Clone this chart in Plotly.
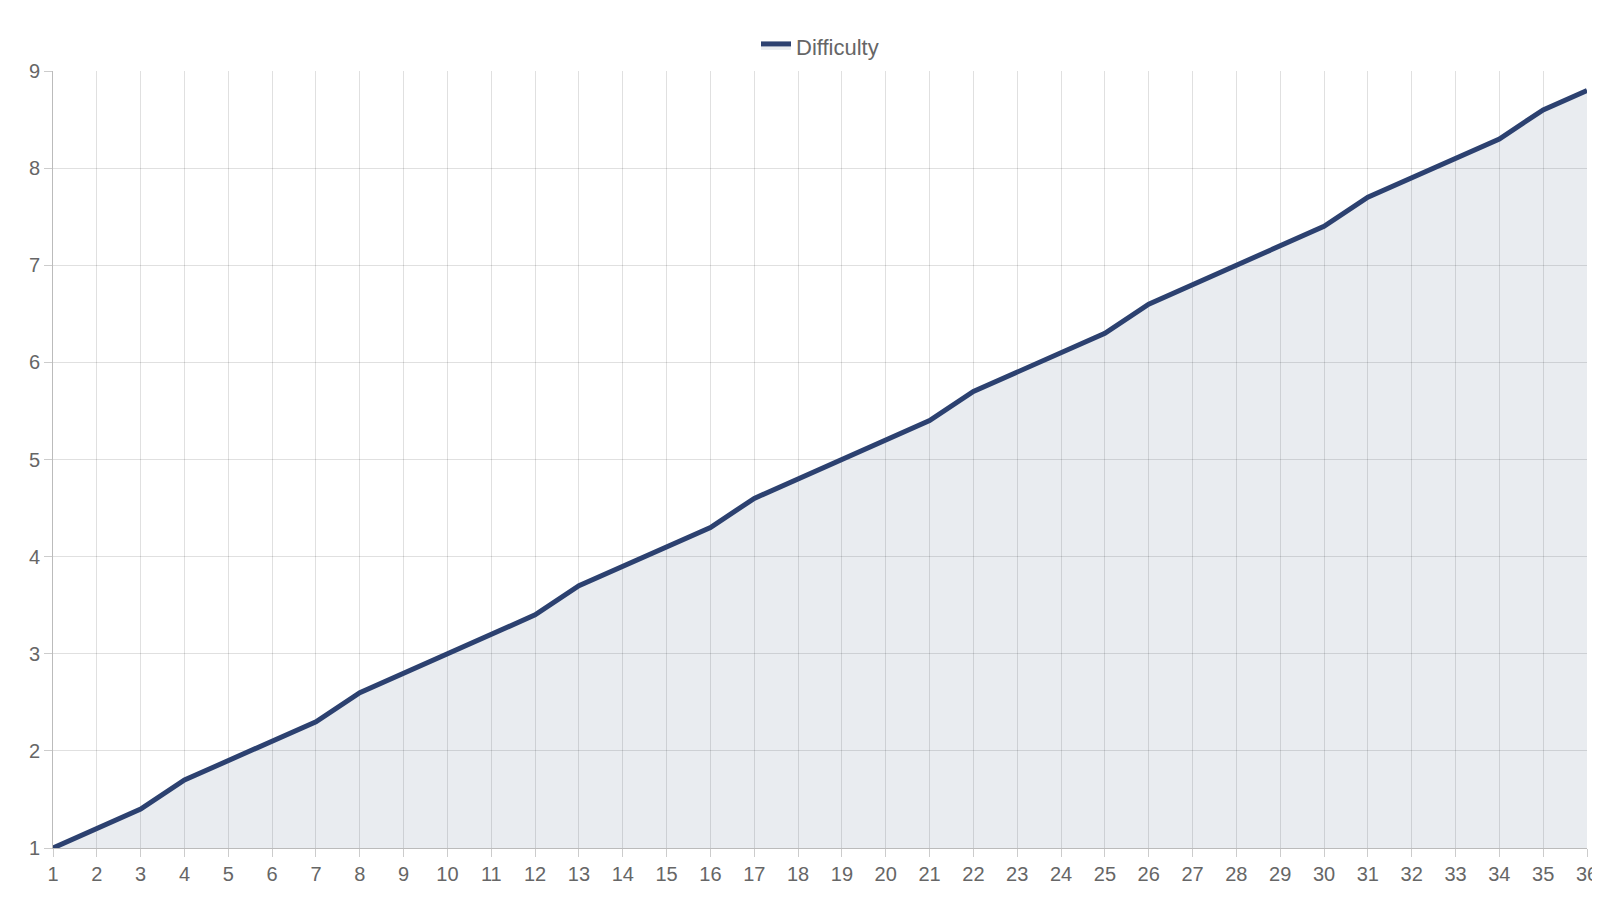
import plotly.graph_objects as go

# Уровни
levels = list(range(1, 37))
difficulty = [1.0, 1.2, 1.4, 1.7, 1.9, 2.1, 2.3, 2.6, 2.8, 3.0, 3.2, 3.4,
              3.7, 3.9, 4.1, 4.3, 4.6, 4.8, 5.0, 5.2, 5.4, 5.7, 5.9, 6.1,
              6.3, 6.6, 6.8, 7.0, 7.2, 7.4, 7.7, 7.9, 8.1, 8.3, 8.6, 8.8]

fig = go.Figure()
fig.add_trace(go.Scatter(
    x=levels, y=difficulty, mode='lines', name='Difficulty',
    line=dict(color='#2c4170', width=5),
    fill='tozeroy', fillcolor='rgba(44,65,112,0.1)'
))

fig.update_layout(
    width=1600, height=900,
    paper_bgcolor='white', plot_bgcolor='white',
    margin=dict(l=45, r=21, t=63, b=60),
    font=dict(family='Liberation Sans, Arial', size=20, color='#666'),
    showlegend=True,
    legend=dict(orientation='h', x=0.5, xanchor='center', y=1.005, yanchor='bottom',
                font=dict(size=22)),
    xaxis=dict(range=[1, 36], tickvals=levels, showgrid=True, automargin=False,
               gridcolor='rgba(0,0,0,0.12)', zeroline=False,
               showline=True, linecolor='#bbb', ticks='outside',
               ticklen=8, tickcolor='#ccc'),
    yaxis=dict(range=[1, 9], dtick=1, showgrid=True, automargin=False,
               gridcolor='rgba(0,0,0,0.12)', zeroline=False,
               showline=True, linecolor='#bbb', ticks='outside',
               ticklen=8, tickcolor='#ccc'),
)

fig.write_html("out.html")
